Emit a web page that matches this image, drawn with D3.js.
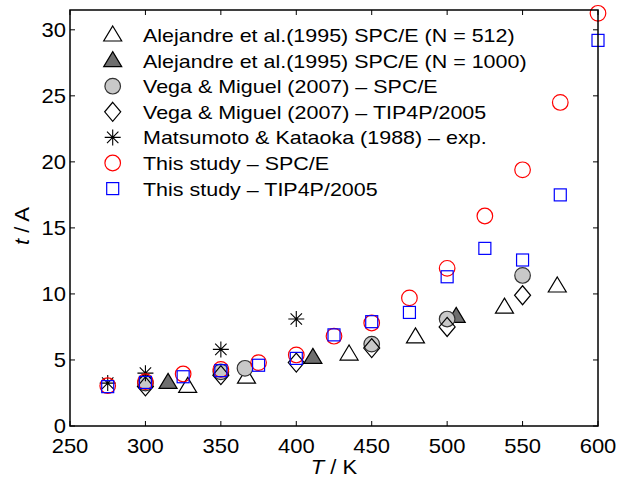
<!DOCTYPE html>
<html>
<head>
<meta charset="utf-8">
<script src="https://cdn.jsdelivr.net/npm/d3@7"></script>
<style>
  body { margin: 0; background: #fff; }
  svg text { font-family: "Liberation Sans", Arial, sans-serif; fill: #000; }
</style>
</head>
<body>
<div id="chart"></div>
<script>
// temperatures (K) and thickness values
const alej512T = [328, 367, 435, 479, 538, 573];
const alej512V = [3.0, 3.7, 5.45, 6.75, 9.0, 10.6];
const alej1000T = [315, 411, 506];
const alej1000V = [3.3, 5.2, 8.3];
const vegaSpceT = [300, 350, 366, 450, 500, 550];
const vegaSpceV = [3.25, 4.1, 4.37, 6.2, 8.1, 11.4];
const vegaTipT = [300, 350, 400, 450, 500, 550];
const vegaTipV = [3.0, 3.85, 4.8, 5.9, 7.5, 9.9];
const matsuT = [275, 300, 350, 400];
const matsuV = [3.25, 4.0, 5.8, 8.1];
const studySpceT = [275, 300, 325, 350, 375, 400, 425, 450, 475, 500, 525, 550, 575, 600];
const studySpceV = [3.05, 3.36, 3.94, 4.29, 4.8, 5.38, 6.8, 7.8, 9.7, 11.94, 15.9, 19.4, 24.5, 31.25];
const studyTipT = [275, 300, 325, 350, 375, 400, 425, 450, 475, 500, 525, 550, 575, 600];
const studyTipV = [2.98, 3.3, 3.73, 4.19, 4.6, 5.12, 6.9, 7.9, 8.6, 11.3, 13.45, 12.57, 17.5, 29.2];

const xTicks = [250, 300, 350, 400, 450, 500, 550, 600];
const yTicks = [0, 5, 10, 15, 20, 25, 30];

const legendLabels = [
  "Alejandre et al.(1995) SPC/E (N = 512)",
  "Alejandre et al.(1995) SPC/E (N = 1000)",
  "Vega & Miguel (2007) \u2013 SPC/E",
  "Vega & Miguel (2007) \u2013 TIP4P/2005",
  "Matsumoto & Kataoka (1988) \u2013 exp.",
  "This study \u2013 SPC/E",
  "This study \u2013 TIP4P/2005"
];

const W = 620, H = 482;
const pL = 70, pR = 598, pT = 10, pB = 426;

const x = d3.scaleLinear().domain([250, 600]).range([pL, pR]);
const y = d3.scaleLinear().domain([0, 31.5]).range([pB, pT]);

const svg = d3.select("#chart").append("svg")
  .attr("width", W).attr("height", H);

// marker drawing
function marker(g, kind) {
  switch (kind) {
    case "triOpen":
      g.append("path").attr("d", "M0,-9L9,6L-9,6Z")
        .attr("fill", "#fff").attr("stroke", "#000").attr("stroke-width", 1.2);
      break;
    case "triFill":
      g.append("path").attr("d", "M0,-9L9,6L-9,6Z")
        .attr("fill", "#6e6e6e").attr("stroke", "#000").attr("stroke-width", 1.2);
      break;
    case "grey":
      g.append("circle").attr("r", 7.8)
        .attr("fill", "#c8c8c8").attr("stroke", "#333").attr("stroke-width", 1.2);
      break;
    case "diamond":
      g.append("path").attr("d", "M0,-9.5L8,0L0,9.5L-8,0Z")
        .attr("fill", "none").attr("stroke", "#000").attr("stroke-width", 1.2);
      break;
    case "star":
      g.append("path").attr("d", "M0,-8V8M-8,0H8M-5.7,-5.7L5.7,5.7M-5.7,5.7L5.7,-5.7")
        .attr("fill", "none").attr("stroke", "#000").attr("stroke-width", 1.1);
      break;
    case "red":
      g.append("circle").attr("r", 7.8)
        .attr("fill", "none").attr("stroke", "#ff0000").attr("stroke-width", 1.2);
      break;
    case "blue":
      g.append("rect").attr("x", -6).attr("y", -6).attr("width", 12).attr("height", 12)
        .attr("fill", "none").attr("stroke", "#0000ff").attr("stroke-width", 1.2);
      break;
  }
}

const series = [
  { kind: "triOpen", T: alej512T, V: alej512V },
  { kind: "triFill", T: alej1000T, V: alej1000V },
  { kind: "grey", T: vegaSpceT, V: vegaSpceV },
  { kind: "diamond", T: vegaTipT, V: vegaTipV },
  { kind: "star", T: matsuT, V: matsuV },
  { kind: "red", T: studySpceT, V: studySpceV },
  { kind: "blue", T: studyTipT, V: studyTipV }
];

// legend (no box)
const leg = svg.append("g");
series.forEach((s, i) => {
  const yy = 35 + i * 25.6;
  const m = leg.append("g").attr("transform", `translate(112.7,${yy})`);
  marker(m, s.kind);
  leg.append("text")
    .attr("transform", `translate(143,${yy + 7}) scale(1.13,1)`)
    .attr("font-size", 19)
    .text(legendLabels[i]);
});

// points
series.forEach(s => {
  s.T.forEach((t, j) => {
    const g = svg.append("g").attr("transform", `translate(${x(t)},${y(s.V[j])})`);
    marker(g, s.kind);
  });
});

// axes box and inward ticks
const ax = svg.append("g").attr("stroke", "#000").attr("fill", "none");
ax.append("rect").attr("x", pL).attr("y", pT)
  .attr("width", pR - pL).attr("height", pB - pT)
  .attr("stroke-width", 1.5);
xTicks.forEach(t => {
  ax.append("line").attr("x1", x(t)).attr("x2", x(t)).attr("y1", pB).attr("y2", pB - 5);
  ax.append("line").attr("x1", x(t)).attr("x2", x(t)).attr("y1", pT).attr("y2", pT + 5);
});
yTicks.forEach(t => {
  ax.append("line").attr("y1", y(t)).attr("y2", y(t)).attr("x1", pL).attr("x2", pL + 5);
  ax.append("line").attr("y1", y(t)).attr("y2", y(t)).attr("x1", pR).attr("x2", pR - 5);
});

// tick labels
xTicks.forEach(t => {
  svg.append("text")
    .attr("transform", `translate(${x(t)},453) scale(1.1,1)`)
    .attr("text-anchor", "middle").attr("font-size", 20)
    .text(t);
});
yTicks.forEach(t => {
  svg.append("text")
    .attr("transform", `translate(66,${y(t) + 7}) scale(1.1,1)`)
    .attr("text-anchor", "end").attr("font-size", 20)
    .text(t);
});

// axis titles
const xl = svg.append("text")
  .attr("transform", `translate(${(pL + pR) / 2},474) scale(1.1,1)`)
  .attr("text-anchor", "middle").attr("font-size", 20);
xl.append("tspan").attr("font-style", "italic").text("T");
xl.append("tspan").text(" / K");

const yl = svg.append("text")
  .attr("transform", `translate(29,226) rotate(-90) scale(1.1,1)`)
  .attr("text-anchor", "middle").attr("font-size", 20);
yl.append("tspan").attr("font-style", "italic").text("t");
yl.append("tspan").text(" / A");
</script>
</body>
</html>
